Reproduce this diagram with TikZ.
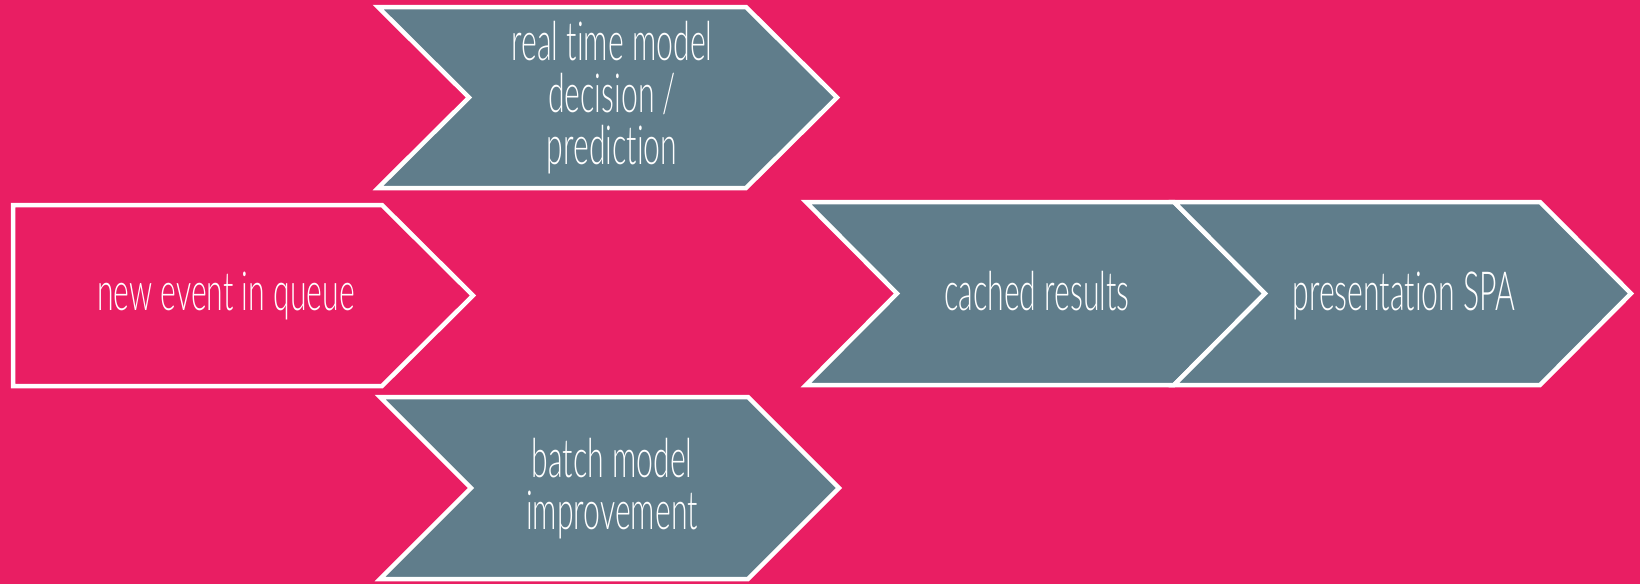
\documentclass[tikz,border=0pt]{standalone}
\usepackage{fontspec}
\setmainfont{Lato Light}[FakeStretch=0.56, Ligatures={NoCommon,NoRare,NoDiscretionary}]
\definecolor{bgpink}{HTML}{E91E63}
\definecolor{slate}{HTML}{607D8B}
\tikzset{
  chevbox/.style={draw=white, line width=4.5pt, line join=miter},
  label/.style={text=white, font=\fontsize{54}{52}\selectfont, align=center, inner sep=0pt},
}
% chevron: top-left x, top y, body width, height, point depth
\newcommand\chevpath[5]{(#1,#2) -- ++(#3,0) -- ++(#5,#4/2) -- ++(-#5,#4/2) -- ++(-#3,0) -- ++(#5,-#4/2) -- cycle}
\begin{document}
\begin{tikzpicture}[x=1pt,y=-1pt]
  \fill[bgpink] (0,0) rectangle (1640,584);
  \useasboundingbox (0,0) rectangle (1640,584);

  % entry shape: flat left side, pointed right side
  \draw[chevbox, fill=bgpink] (13,205) -- (382,205) -- (473,295.5) -- (382,386) -- (13,386) -- cycle;
  \node[label, anchor=base] (event) at (226,310) {new event in queue};

  % upper branch
  \draw[chevbox, fill=slate] \chevpath{378}{7}{368}{181}{91};
  \node[label] (realtime) at (612,98) {real time model\\decision /\\prediction};

  % lower branch
  \draw[chevbox, fill=slate] \chevpath{380}{397}{368}{182}{91};
  \node[label] (batch) at (612,489) {batch model\\improvement};

  % output chain
  \draw[chevbox, fill=slate] \chevpath{806}{202}{368}{183}{91};
  \node[label, anchor=base] (cached) at (1037,310) {cached results};
  \draw[chevbox, fill=slate] \chevpath{1174}{202}{366}{183}{91};
  \node[label, anchor=base] (spa) at (1404,310) {presentation SPA};
\end{tikzpicture}
\end{document}
